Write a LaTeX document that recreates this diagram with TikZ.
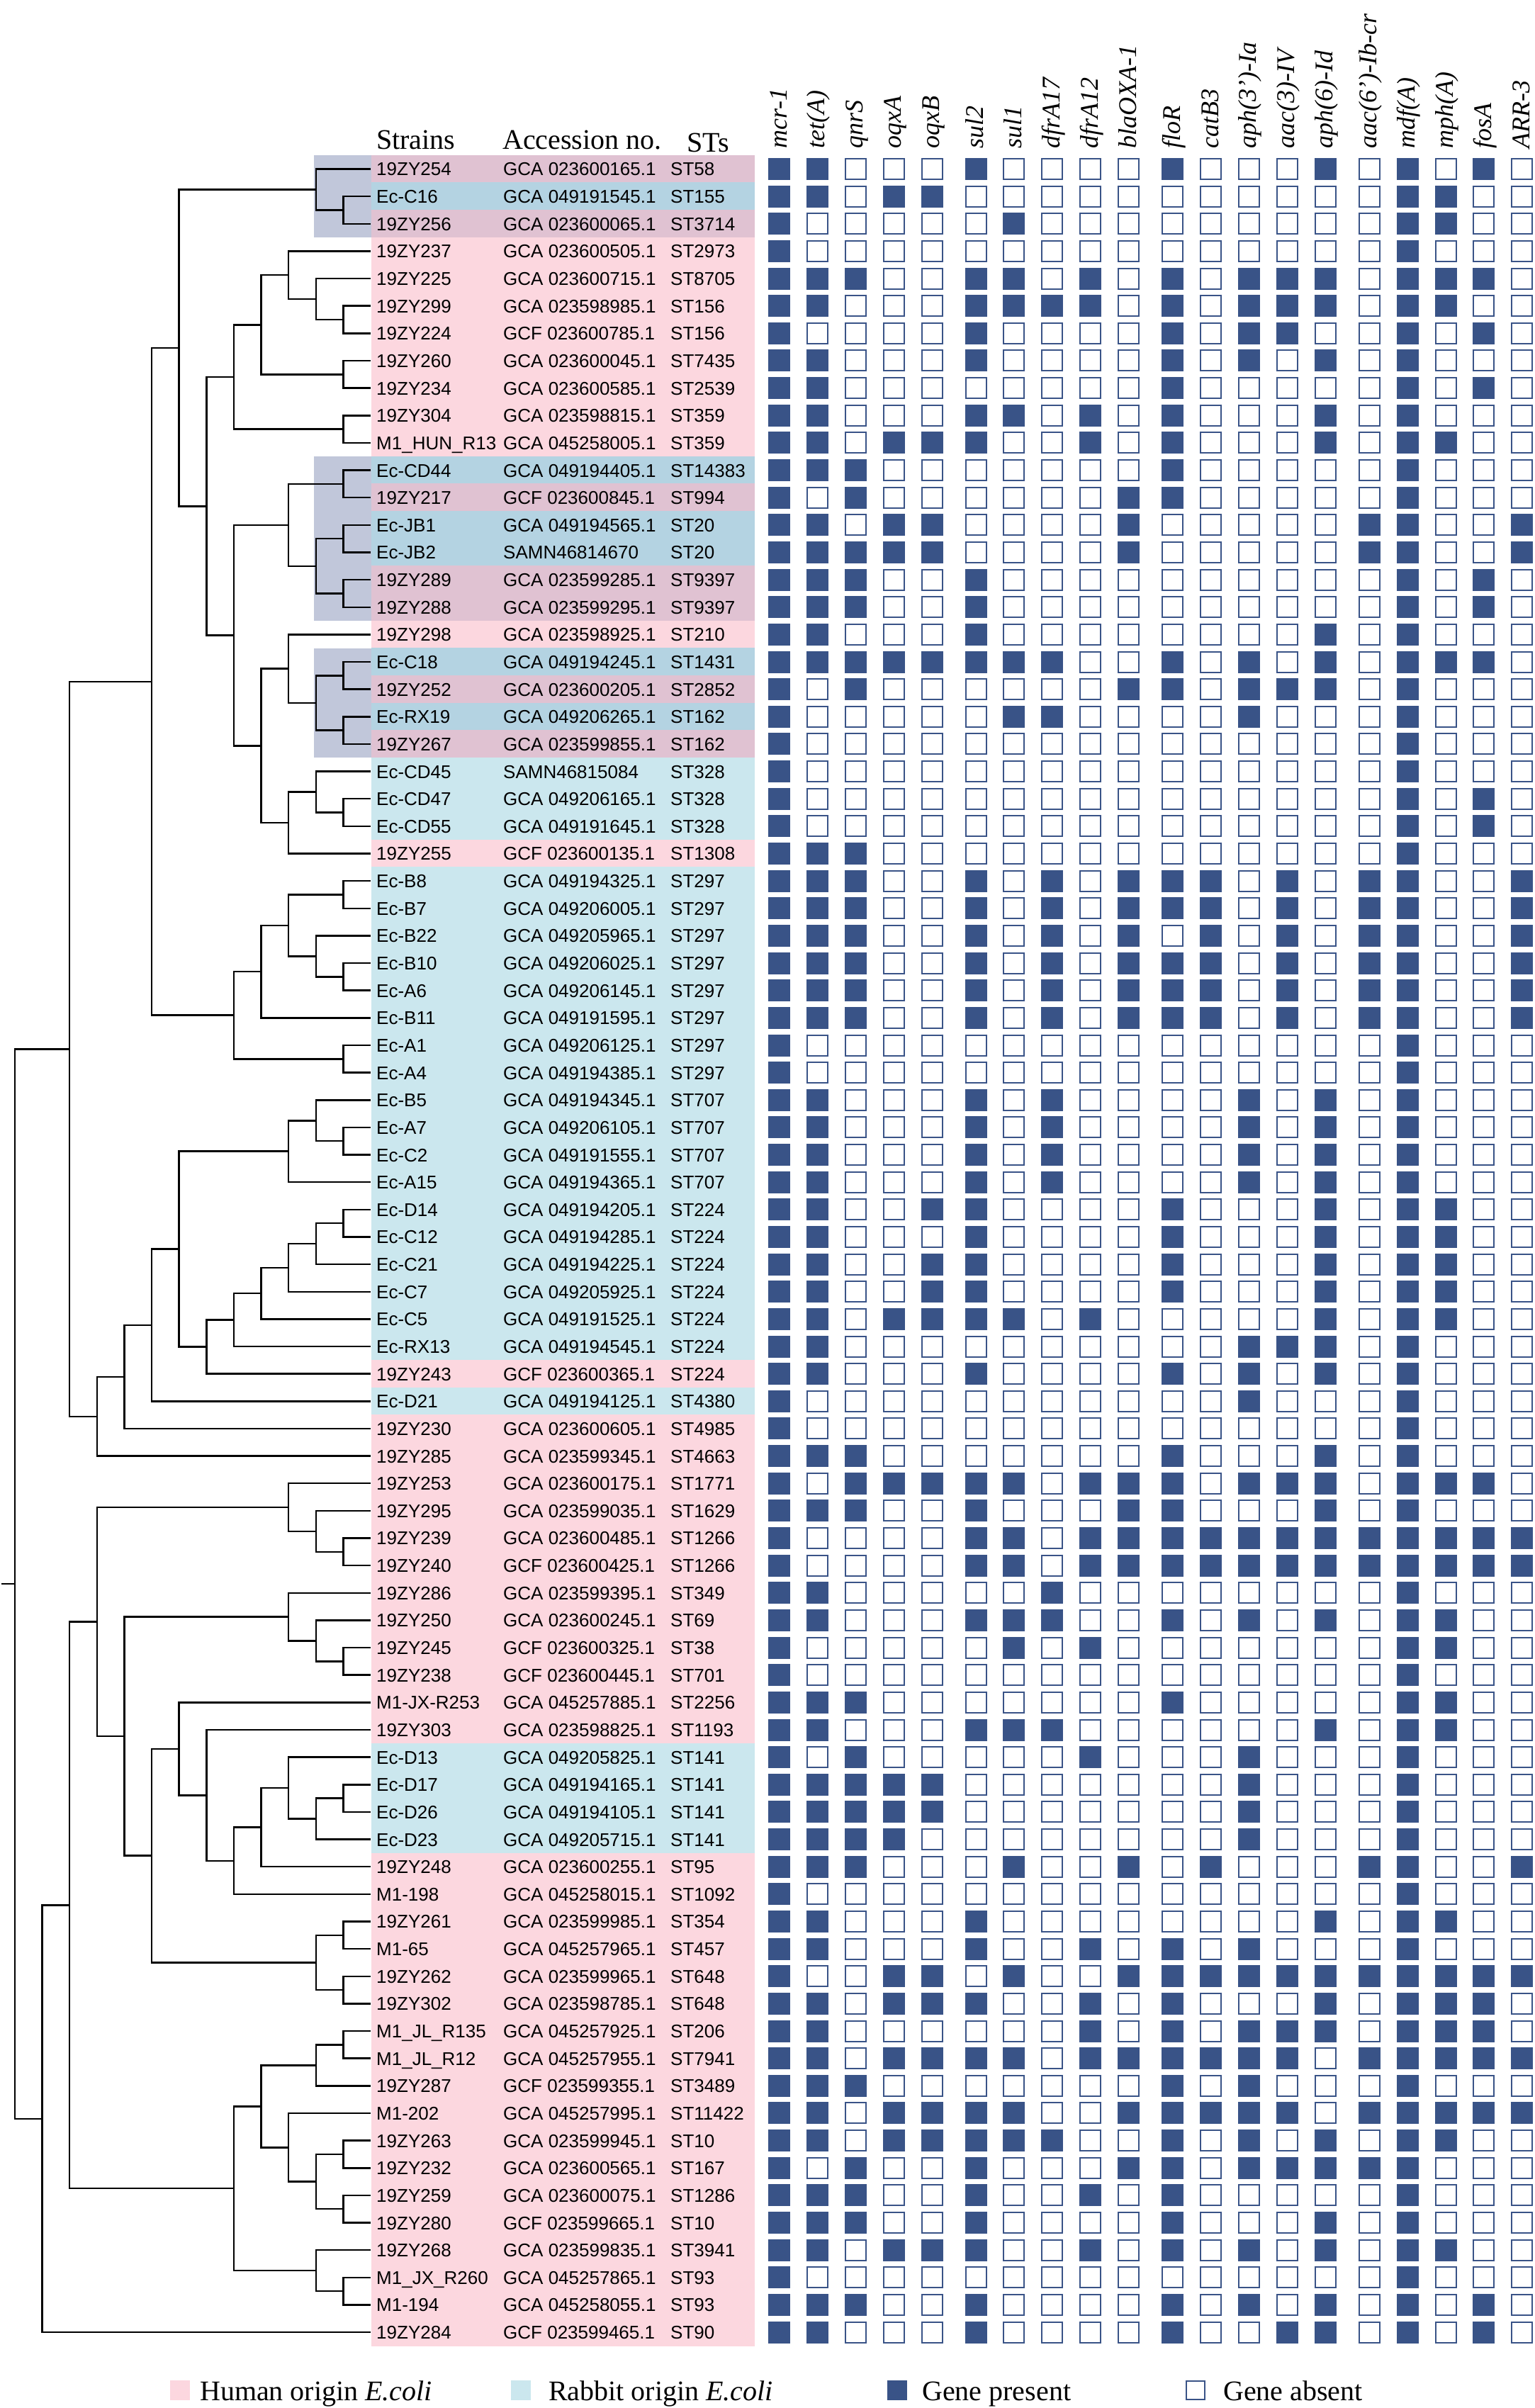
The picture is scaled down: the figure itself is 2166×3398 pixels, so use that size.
\documentclass[tikz,border=0pt]{standalone}
\usepackage{fontspec}
\setmainfont{Liberation Serif}
\newfontfamily\labfont{Liberation Sans}
\definecolor{navy}{RGB}{57,83,135}
\definecolor{colh}{RGB}{252,215,223}
\definecolor{colr}{RGB}{203,231,238}
\definecolor{colH}{RGB}{224,194,210}
\definecolor{colR}{RGB}{180,211,226}
\definecolor{ovlc}{RGB}{193,199,218}
\def\glist{}
\def\bitlist#1{\def\glist{}\bitnext#1\relax}
\def\bitnext#1{\ifx\relax#1\else\ifx\glist\empty\def\glist{#1}\else\edef\glist{\glist,#1}\fi\expandafter\bitnext\fi}
\newcommand\treejoin[3]{\draw[treeline] (#2) -| (#1) |- (#3);}
\begin{document}
\begin{tikzpicture}[x=1pt,y=-1pt,
  treeline/.style={line width=2.5pt, black, line join=miter},
  cellon/.style={shape=rectangle, fill=navy, draw=none, minimum size=31pt, inner sep=0pt},
  celloff/.style={shape=rectangle, fill=white, draw=navy, line width=2pt, minimum size=29pt, inner sep=0pt},
  cellst/.code={\ifnum#1=1\relax\tikzset{cellon}\else\tikzset{celloff}\fi},
  legon/.style={shape=rectangle, fill=navy, draw=none, minimum size=28pt, inner sep=0pt},
  legoff/.style={shape=rectangle, fill=white, draw=navy, line width=2pt, minimum size=26pt, inner sep=0pt},
  legsq/.style={shape=rectangle, draw=none, minimum size=28pt, inner sep=0pt},
  labtxt/.style={font=\labfont\fontsize{26}{30}\selectfont, inner sep=0pt, anchor=base west},
  hdr/.style={font=\fontsize{40}{46}\selectfont, inner sep=0pt, anchor=base west},
  gene/.style={font=\itshape\fontsize{36}{42}\selectfont, rotate=90, anchor=base west, inner sep=0pt},
  leg/.style={font=\fontsize{40}{46}\selectfont, inner sep=0pt, anchor=base west}
]
\useasboundingbox (0,0) rectangle (2166,3398);
\fill[white] (0,0) rectangle (2166,3398);

% headers
\node[hdr] (hstrain) at (531,210) {Strains};
\node[hdr] (hacc) at (709,210) {Accession no.};
\node[hdr] (hst) at (969,214) {STs};
\foreach \gn [count=\cl] in {mcr-1,tet(A),qnrS,oqxA,oqxB,sul2,sul1,dfrA17,dfrA12,blaOXA-1,floR,catB3,aph(3')-Ia,aac(3)-IV,aph(6)-Id,aac(6')-Ib-cr,mdf(A),mph(A),fosA,ARR-3}{
  \pgfmathsetmacro\cx{1099.5+(\cl-1)*53.93+floor((\cl-1)/5)*7.9+10.5}
  \node[gene] (gh-\cl) at (\cx,210) {\gn};
}

\begin{scope}[y=-38.64pt, yshift=-199.86pt]
% overlay boxes (left part)
\fill[ovlc] (443,0.5) rectangle (524,3.5);
\fill[ovlc] (443,11.5) rectangle (524,17.5);
\fill[ovlc] (443,18.5) rectangle (524,22.5);

\foreach \rw/\nm/\acc/\stt/\og/\g in {
1/19ZY254/GCA 023600165.1/ST58/H/11000100001000101010,
2/Ec-C16/GCA 049191545.1/ST155/R/11011000000000001100,
3/19ZY256/GCA 023600065.1/ST3714/H/10000010000000001100,
4/19ZY237/GCA 023600505.1/ST2973/h/10000000000000001000,
5/19ZY225/GCA 023600715.1/ST8705/h/11100110101011101110,
6/19ZY299/GCA 023598985.1/ST156/h/11000111101011101100,
7/19ZY224/GCF 023600785.1/ST156/h/10000100001011001010,
8/19ZY260/GCA 023600045.1/ST7435/h/11000100001010101000,
9/19ZY234/GCA 023600585.1/ST2539/h/11000000001000001010,
10/19ZY304/GCA 023598815.1/ST359/h/11000110101000101000,
11/M1\_HUN\_R13/GCA 045258005.1/ST359/h/11011100101000101100,
12/Ec-CD44/GCA 049194405.1/ST14383/R/11100000001000001000,
13/19ZY217/GCF 023600845.1/ST994/H/10100000011000001000,
14/Ec-JB1/GCA 049194565.1/ST20/R/11011000010000011001,
15/Ec-JB2/SAMN46814670/ST20/R/11111000010000011001,
16/19ZY289/GCA 023599285.1/ST9397/H/11100100000000001010,
17/19ZY288/GCA 023599295.1/ST9397/H/11100100000000001010,
18/19ZY298/GCA 023598925.1/ST210/h/11000100000000101000,
19/Ec-C18/GCA 049194245.1/ST1431/R/11111111001010101110,
20/19ZY252/GCA 023600205.1/ST2852/H/10100000011011101000,
21/Ec-RX19/GCA 049206265.1/ST162/R/10000011000010001000,
22/19ZY267/GCA 023599855.1/ST162/H/10000000000000001000,
23/Ec-CD45/SAMN46815084/ST328/r/10000000000000001000,
24/Ec-CD47/GCA 049206165.1/ST328/r/10000000000000001010,
25/Ec-CD55/GCA 049191645.1/ST328/r/10000000000000001010,
26/19ZY255/GCF 023600135.1/ST1308/h/11100000000000001000,
27/Ec-B8/GCA 049194325.1/ST297/r/11100101011101011001,
28/Ec-B7/GCA 049206005.1/ST297/r/11100101011101011001,
29/Ec-B22/GCA 049205965.1/ST297/r/11100101010101011001,
30/Ec-B10/GCA 049206025.1/ST297/r/11100101011101011001,
31/Ec-A6/GCA 049206145.1/ST297/r/11100101011101011001,
32/Ec-B11/GCA 049191595.1/ST297/r/11100101011101011001,
33/Ec-A1/GCA 049206125.1/ST297/r/10000000000000001000,
34/Ec-A4/GCA 049194385.1/ST297/r/10000000000000001000,
35/Ec-B5/GCA 049194345.1/ST707/r/11000101000010101000,
36/Ec-A7/GCA 049206105.1/ST707/r/11000101000010101000,
37/Ec-C2/GCA 049191555.1/ST707/r/11000101000010101000,
38/Ec-A15/GCA 049194365.1/ST707/r/11000101000010101000,
39/Ec-D14/GCA 049194205.1/ST224/r/11001100001000101100,
40/Ec-C12/GCA 049194285.1/ST224/r/11000100001000101100,
41/Ec-C21/GCA 049194225.1/ST224/r/11001100001000101100,
42/Ec-C7/GCA 049205925.1/ST224/r/11001100001000101100,
43/Ec-C5/GCA 049191525.1/ST224/r/11011110100000101100,
44/Ec-RX13/GCA 049194545.1/ST224/r/11000000000011101000,
45/19ZY243/GCF 023600365.1/ST224/h/11000100001010101000,
46/Ec-D21/GCA 049194125.1/ST4380/r/10000000000010001000,
47/19ZY230/GCA 023600605.1/ST4985/h/10000000000000001000,
48/19ZY285/GCA 023599345.1/ST4663/h/11100000001000101000,
49/19ZY253/GCA 023600175.1/ST1771/h/10111110111011101110,
50/19ZY295/GCA 023599035.1/ST1629/h/11100100011000101000,
51/19ZY239/GCA 023600485.1/ST1266/h/10000110111111111111,
52/19ZY240/GCF 023600425.1/ST1266/h/10000110111111111111,
53/19ZY286/GCA 023599395.1/ST349/h/11000001000000001000,
54/19ZY250/GCA 023600245.1/ST69/h/11000111001010101100,
55/19ZY245/GCF 023600325.1/ST38/h/10000010100000001100,
56/19ZY238/GCF 023600445.1/ST701/h/10000000000000001000,
57/M1-JX-R253/GCA 045257885.1/ST2256/h/11100000001000001100,
58/19ZY303/GCA 023598825.1/ST1193/h/11000111000000101100,
59/Ec-D13/GCA 049205825.1/ST141/r/10100000100010001000,
60/Ec-D17/GCA 049194165.1/ST141/r/11111000000010001000,
61/Ec-D26/GCA 049194105.1/ST141/r/11111000000010001000,
62/Ec-D23/GCA 049205715.1/ST141/r/11110000000010001000,
63/19ZY248/GCA 023600255.1/ST95/h/11100010010100011001,
64/M1-198/GCA 045258015.1/ST1092/h/10000000000000001000,
65/19ZY261/GCA 023599985.1/ST354/h/11000100000000101100,
66/M1-65/GCA 045257965.1/ST457/h/11000100101010001000,
67/19ZY262/GCA 023599965.1/ST648/h/10011010011111111111,
68/19ZY302/GCA 023598785.1/ST648/h/11011100101000101110,
69/M1\_JL\_R135/GCA 045257925.1/ST206/h/11000000101011101110,
70/M1\_JL\_R12/GCA 045257955.1/ST7941/h/11011110111111011111,
71/19ZY287/GCF 023599355.1/ST3489/h/11100000001010001000,
72/M1-202/GCA 045257995.1/ST11422/h/11011110011111011111,
73/19ZY263/GCA 023599945.1/ST10/h/11011111001010101100,
74/19ZY232/GCA 023600565.1/ST167/h/10100100011011111000,
75/19ZY259/GCA 023600075.1/ST1286/h/11100100101000001000,
76/19ZY280/GCF 023599665.1/ST10/h/11100100001000101000,
77/19ZY268/GCA 023599835.1/ST3941/h/11011100101010101100,
78/M1\_JX\_R260/GCA 045257865.1/ST93/h/10000000000000001000,
79/M1-194/GCA 045258055.1/ST93/h/11100100001010101010,
80/19ZY284/GCF 023599465.1/ST90/h/11000100001001101010}{
  \fill[fill=col\og] (524,\rw-0.51) rectangle (1065,\rw+0.51);
  \node[labtxt] (nm-\rw) at (531,\rw+0.245) {\nm};
  \node[labtxt] (ac-\rw) at (710,\rw+0.245) {\acc};
  \node[labtxt] (st-\rw) at (946,\rw+0.245) {\stt};
  \expandafter\bitlist\expandafter{\g}
  \foreach \v [count=\cl] in \glist {
    \pgfmathsetmacro\cx{1099.5+(\cl-1)*53.93+floor((\cl-1)/5)*7.9}
    \node[cellst=\v] (cell-\rw-\cl) at (\cx,\rw) {};
  }
}

% tree
\foreach \rw in {1,...,80}{\coordinate (L\rw) at (523,\rw);}
\coordinate (a1) at (484.4,2.5);
\coordinate (a2) at (445.8,1.75);
\coordinate (b1) at (484.4,6.5);
\coordinate (b2) at (445.8,5.75);
\coordinate (b3) at (407.1,4.875);
\coordinate (b4) at (484.4,8.5);
\coordinate (b5) at (368.5,6.6875);
\coordinate (b6) at (484.4,10.5);
\coordinate (b7) at (329.9,8.59375);
\coordinate (c1) at (484.4,12.5);
\coordinate (c2) at (484.4,14.5);
\coordinate (c3) at (484.4,16.5);
\coordinate (c4) at (445.8,15.5);
\coordinate (c5) at (407.1,14.0);
\coordinate (d1) at (484.4,19.5);
\coordinate (d2) at (484.4,21.5);
\coordinate (d3) at (445.8,20.5);
\coordinate (d4) at (407.1,19.25);
\coordinate (d5) at (484.4,24.5);
\coordinate (d6) at (445.8,23.75);
\coordinate (d7) at (407.1,24.875);
\coordinate (d8) at (368.5,22.0625);
\coordinate (c6) at (329.9,18.03125);
\coordinate (e1) at (291.3,13.3125);
\coordinate (e2) at (252.7,7.53125);
\coordinate (f1) at (484.4,27.5);
\coordinate (f2) at (484.4,30.5);
\coordinate (f3) at (445.8,29.75);
\coordinate (f4) at (407.1,28.625);
\coordinate (f5) at (368.5,30.3125);
\coordinate (f6) at (484.4,33.5);
\coordinate (f7) at (329.9,31.90625);
\coordinate (g1) at (214.0,19.71875);
\coordinate (k1) at (484.4,36.5);
\coordinate (k2) at (445.8,35.75);
\coordinate (k3) at (407.1,36.875);
\coordinate (m1) at (484.4,39.5);
\coordinate (m2) at (445.8,40.25);
\coordinate (m3) at (407.1,41.125);
\coordinate (m4) at (368.5,42.0625);
\coordinate (m5) at (329.9,43.03125);
\coordinate (m6) at (291.3,44.015625);
\coordinate (m7) at (252.7,40.4453);
\coordinate (m8) at (214.0,43.2227);
\coordinate (m9) at (175.4,45.1113);
\coordinate (m10) at (136.8,46.5557);
\coordinate (T1) at (98.2,33.1372);
\coordinate (n1) at (484.4,51.5);
\coordinate (n2) at (445.8,50.75);
\coordinate (n3) at (407.1,49.875);
\coordinate (p1) at (484.4,55.5);
\coordinate (p2) at (445.8,54.75);
\coordinate (p3) at (407.1,53.875);
\coordinate (q1) at (484.4,60.5);
\coordinate (q2) at (445.8,61.25);
\coordinate (q3) at (407.1,60.125);
\coordinate (q4) at (368.5,61.5625);
\coordinate (q5) at (329.9,62.78125);
\coordinate (q6) at (291.3,60.390625);
\coordinate (q7) at (252.7,58.6953);
\coordinate (r1) at (484.4,65.5);
\coordinate (r2) at (484.4,67.5);
\coordinate (r3) at (445.8,66.5);
\coordinate (q8) at (214.0,62.5977);
\coordinate (q9) at (175.4,58.2363);
\coordinate (q10) at (136.8,54.0557);
\coordinate (s1) at (484.4,69.5);
\coordinate (s2) at (445.8,70.25);
\coordinate (s3) at (484.4,73.5);
\coordinate (s4) at (484.4,75.5);
\coordinate (s5) at (445.8,74.5);
\coordinate (s6) at (407.1,73.25);
\coordinate (s7) at (368.5,71.75);
\coordinate (t1) at (484.4,78.5);
\coordinate (t2) at (445.8,77.75);
\coordinate (s8) at (329.9,74.75);
\coordinate (u1) at (98.2,64.4028);
\coordinate (u2) at (59.6,72.2014);
\coordinate (root) at (21.0,52.6693);
\coordinate (stub) at (2,52.6693);

\treejoin{a1}{L2}{L3}
\treejoin{a2}{L1}{a1}
\treejoin{b1}{L6}{L7}
\treejoin{b2}{L5}{b1}
\treejoin{b3}{L4}{b2}
\treejoin{b4}{L8}{L9}
\treejoin{b5}{b3}{b4}
\treejoin{b6}{L10}{L11}
\treejoin{b7}{b5}{b6}
\treejoin{c1}{L12}{L13}
\treejoin{c2}{L14}{L15}
\treejoin{c3}{L16}{L17}
\treejoin{c4}{c2}{c3}
\treejoin{c5}{c1}{c4}
\treejoin{d1}{L19}{L20}
\treejoin{d2}{L21}{L22}
\treejoin{d3}{d1}{d2}
\treejoin{d4}{L18}{d3}
\treejoin{d5}{L24}{L25}
\treejoin{d6}{L23}{d5}
\treejoin{d7}{d6}{L26}
\treejoin{d8}{d4}{d7}
\treejoin{c6}{c5}{d8}
\treejoin{e1}{b7}{c6}
\treejoin{e2}{a2}{e1}
\treejoin{f1}{L27}{L28}
\treejoin{f2}{L30}{L31}
\treejoin{f3}{L29}{f2}
\treejoin{f4}{f1}{f3}
\treejoin{f5}{f4}{L32}
\treejoin{f6}{L33}{L34}
\treejoin{f7}{f5}{f6}
\treejoin{g1}{e2}{f7}
\treejoin{k1}{L36}{L37}
\treejoin{k2}{L35}{k1}
\treejoin{k3}{k2}{L38}
\treejoin{m1}{L39}{L40}
\treejoin{m2}{m1}{L41}
\treejoin{m3}{m2}{L42}
\treejoin{m4}{m3}{L43}
\treejoin{m5}{m4}{L44}
\treejoin{m6}{m5}{L45}
\treejoin{m7}{k3}{m6}
\treejoin{m8}{m7}{L46}
\treejoin{m9}{m8}{L47}
\treejoin{m10}{m9}{L48}
\treejoin{T1}{g1}{m10}
\treejoin{n1}{L51}{L52}
\treejoin{n2}{L50}{n1}
\treejoin{n3}{L49}{n2}
\treejoin{p1}{L55}{L56}
\treejoin{p2}{L54}{p1}
\treejoin{p3}{L53}{p2}
\treejoin{q1}{L60}{L61}
\treejoin{q2}{q1}{L62}
\treejoin{q3}{L59}{q2}
\treejoin{q4}{q3}{L63}
\treejoin{q5}{q4}{L64}
\treejoin{q6}{L58}{q5}
\treejoin{q7}{L57}{q6}
\treejoin{r1}{L65}{L66}
\treejoin{r2}{L67}{L68}
\treejoin{r3}{r1}{r2}
\treejoin{q8}{q7}{r3}
\treejoin{q9}{p3}{q8}
\treejoin{q10}{n3}{q9}
\treejoin{s1}{L69}{L70}
\treejoin{s2}{s1}{L71}
\treejoin{s3}{L73}{L74}
\treejoin{s4}{L75}{L76}
\treejoin{s5}{s3}{s4}
\treejoin{s6}{L72}{s5}
\treejoin{s7}{s2}{s6}
\treejoin{t1}{L78}{L79}
\treejoin{t2}{L77}{t1}
\treejoin{s8}{s7}{t2}
\treejoin{u1}{q10}{s8}
\treejoin{u2}{u1}{L80}
\treejoin{root}{T1}{u2}
\draw[treeline] (stub) -- (root);
\end{scope}

% legend
\node[legsq, fill=colh] (lgh) at (254,3373) {};
\node[leg] (lth) at (282,3387) {Human origin \textit{E.coli}};
\node[legsq, fill=colr] (lgr) at (735,3373) {};
\node[leg] (ltr) at (774,3387) {Rabbit origin \textit{E.coli}};
\node[legon] (lgp) at (1266,3373) {};
\node[leg] (ltp) at (1301,3387) {Gene present};
\node[legoff] (lga) at (1687,3373) {};
\node[leg] (lta) at (1726,3387) {Gene absent};
\end{tikzpicture}
\end{document}
